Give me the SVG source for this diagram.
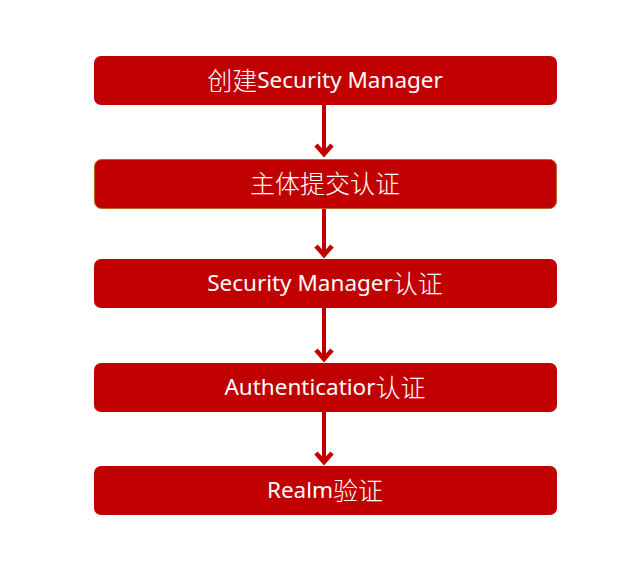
<svg xmlns="http://www.w3.org/2000/svg" width="635" height="568" viewBox="0 0 635 568">
<style>
.box{fill:#C00000;}
.b2{stroke:#B8682A;stroke-width:1;}
.t{fill:#fff;font-family:"Noto Sans","Noto Sans CJK SC",sans-serif;font-size:22.5px;text-anchor:middle;dominant-baseline:central;}
.k{font-size:25px;font-family:"Noto Sans CJK SC",sans-serif;font-weight:300;}
.c{stroke:#C00000;stroke-width:4;fill:none;}
.h{stroke:#C00000;stroke-width:4.5;fill:none;stroke-linejoin:miter;}
</style>
<g id="connectors">
<path class="c" d="M324 105V155"/><path class="h" d="M316 145L324 154L332 145"/>
<path class="c" d="M324 209V256"/><path class="h" d="M316 246L324 255L332 246"/>
<path class="c" d="M324 308V360"/><path class="h" d="M316 350L324 359L332 350"/>
<path class="c" d="M324 412V463"/><path class="h" d="M316 453L324 462L332 453"/>
</g>
<g id="n1"><rect class="box" x="94" y="56" width="463" height="49" rx="7"/><text class="t" x="325" y="79"><tspan class="k">创建</tspan>Security Manager</text></g>
<g id="n2"><rect class="box b2" x="94.5" y="159.5" width="462" height="49" rx="7"/><text class="t" x="325" y="182"><tspan class="k">主体提交认证</tspan></text></g>
<g id="n3"><rect class="box" x="94" y="259" width="463" height="49" rx="7"/><text class="t" x="325" y="282">Security Manager<tspan class="k">认证</tspan></text></g>
<g id="n4"><rect class="box" x="94" y="363" width="463" height="49" rx="7"/><text class="t" x="325" y="386">Authenticatior<tspan class="k">认证</tspan></text></g>
<g id="n5"><rect class="box" x="94" y="466" width="463" height="49" rx="7"/><text class="t" x="325" y="489">Realm<tspan class="k">验证</tspan></text></g>
</svg>
